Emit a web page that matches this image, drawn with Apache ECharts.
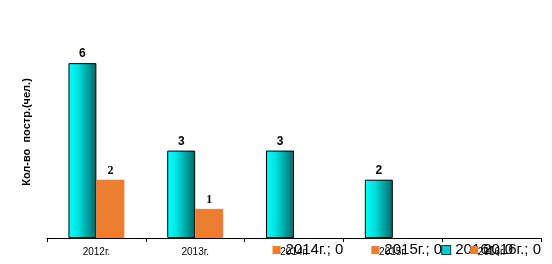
<!DOCTYPE html>
<html>
<head>
<meta charset="utf-8">
<script src="https://cdn.jsdelivr.net/npm/echarts@6/dist/echarts.min.js"></script>
<style>
html,body{margin:0;padding:0;background:#fff;}
#c{width:552px;height:264px;}
</style>
</head>
<body>
<div id="c"></div>
<script>
const categories = ['2012г.', '2013г.', '2014г.', '2015г.', '2016г.'];
const cyanValues = [6, 3, 3, 2, 0];
const orangeValues = [2, 1, 0, 0, 0];
const yAxisTitle = 'Кол-во  постр.(чел.)';
const yMax = 7;

const cyanFill = new echarts.graphic.LinearGradient(0, 0, 1, 0, [
  {offset: 0, color: '#00FFFF'},
  {offset: 0.35, color: '#00E0E0'},
  {offset: 1, color: '#006666'}
]);
const orange = '#ED7D31';

function zeroLabel(markerStyle) {
  return {
    show: true,
    position: 'bottom',
    distance: 4,
    fontWeight: 'normal',
    formatter: function (p) { return '{m|}{t|' + p.name + '; ' + p.value + '}'; },
    rich: {
      m: Object.assign({width: 8, height: 8}, markerStyle),
      t: {fontFamily: 'Liberation Sans, Arial', fontSize: 15, fontWeight: 'normal', color: '#000', padding: [0, 0, 0, 5], lineHeight: 16}
    }
  };
}

function buildData(values, markerStyle) {
  return values.map(v => v === 0 ? {value: v, label: zeroLabel(markerStyle), itemStyle: {borderWidth: 0}} : v);
}

const chart = echarts.init(document.getElementById('c'), null, {renderer: 'canvas'});
chart.setOption({
  backgroundColor: '#fff',
  animation: false,
  grid: {left: 47, right: 11, top: 34, bottom: 26},
  xAxis: {
    type: 'category',
    data: categories,
    axisLine: {lineStyle: {color: '#000', width: 1}},
    axisTick: {show: true, length: 4, lineStyle: {color: '#000'}},
    axisLabel: {fontFamily: 'Liberation Sans, Arial', fontSize: 10, color: '#000', margin: 9}
  },
  yAxis: {
    type: 'value',
    min: 0, max: yMax,
    axisLine: {show: false},
    axisTick: {show: false},
    axisLabel: {show: false},
    splitLine: {show: false},
    name: yAxisTitle,
    nameLocation: 'middle',
    nameRotate: 90,
    nameGap: 15,
    nameTextStyle: {fontFamily: 'Liberation Sans, Arial', fontSize: 11, fontWeight: 'bold', color: '#000', padding: [0, 0, 0, 8]}
  },
  series: [
    {
      name: 'A',
      type: 'bar',
      barWidth: '28.3%',
      barGap: '0%',
      data: buildData(cyanValues, {backgroundColor: '#00CCCC', borderColor: '#004444', borderWidth: 1}),
      itemStyle: {color: cyanFill, borderColor: '#000', borderWidth: 1},
      label: {show: true, position: 'top', distance: 3, fontFamily: 'Liberation Sans, Arial', fontWeight: 'bold', fontSize: 12, color: '#000'}
    },
    {
      name: 'B',
      type: 'bar',
      barWidth: '28.3%',
      barGap: '0%',
      data: buildData(orangeValues, {backgroundColor: orange}),
      itemStyle: {color: orange},
      label: {show: true, position: 'top', distance: 3, fontFamily: 'Liberation Serif, Times New Roman', fontWeight: 'bold', fontSize: 12, color: '#000'}
    }
  ]
});
</script>
</body>
</html>
